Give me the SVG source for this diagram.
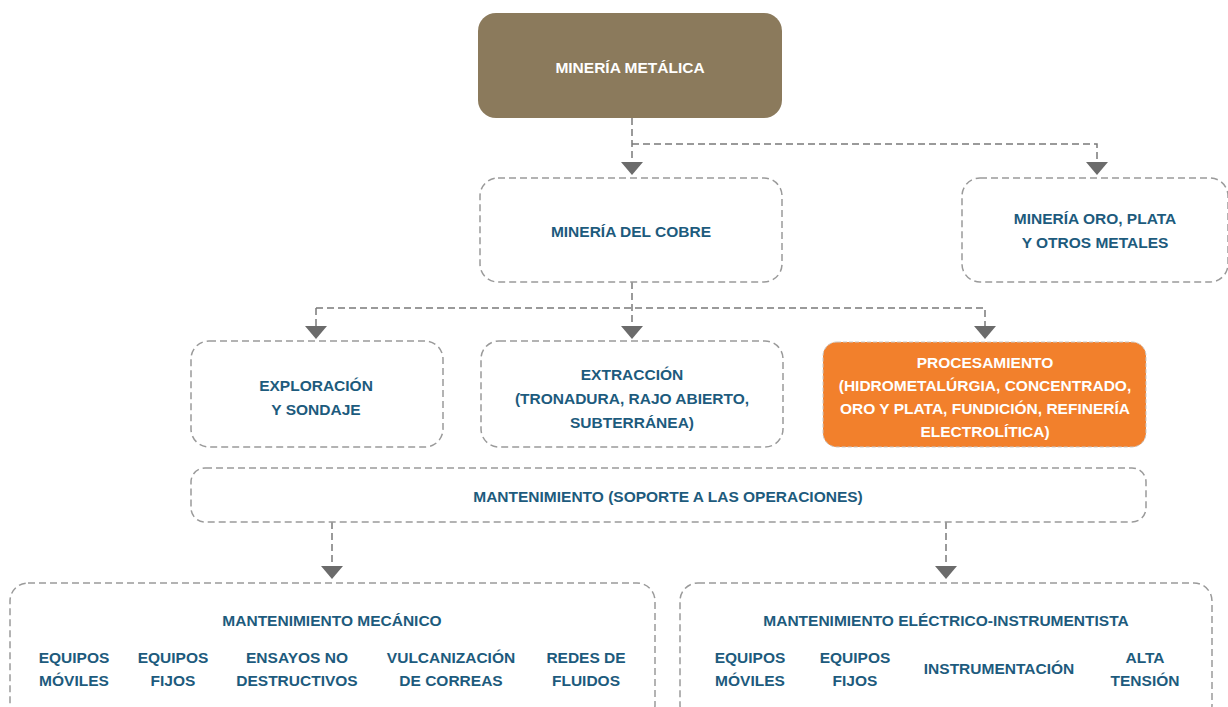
<svg xmlns="http://www.w3.org/2000/svg" width="1228" height="707" viewBox="0 0 1228 707">
<style>
.box{fill:#fff;stroke:#9a9a9a;stroke-width:1.5;stroke-dasharray:7,4}
.conn{fill:none;stroke:#7a7a7a;stroke-width:1.5;stroke-dasharray:7,4}
.t{font-family:"Liberation Sans",Arial,sans-serif;font-weight:bold;font-size:15.5px;fill:#1d5b7d;text-anchor:middle}
.w{fill:#fff}
.ah{fill:#6b6b6b}
</style>
<rect width="1228" height="707" fill="#fff"/>
<g id="connectors">
<path class="conn" d="M632,118 V162"/>
<path class="conn" d="M632,144 H1097 V162"/>
<path class="ah" d="M621,162 H643 L632,175 Z"/>
<path class="ah" d="M1086,162 H1108 L1097,175 Z"/>
<path class="conn" d="M632,282 V326"/>
<path class="conn" d="M316,308 H985 V326"/>
<path class="conn" d="M316,308 V326"/>
<path class="ah" d="M305,326 H327 L316,339 Z"/>
<path class="ah" d="M621,326 H643 L632,339 Z"/>
<path class="ah" d="M974,326 H996 L985,339 Z"/>
<path class="conn" d="M332,522 V566"/>
<path class="conn" d="M946,522 V566"/>
<path class="ah" d="M321,566 H343 L332,579 Z"/>
<path class="ah" d="M935,566 H957 L946,579 Z"/>
</g>
<g id="mineria-metalica">
<rect x="478" y="13" width="304" height="105" rx="18" fill="#8b7a5c"/>
<text class="t w" x="630" y="73">MINERÍA METÁLICA</text>
</g>
<g id="mineria-cobre">
<rect class="box" x="480" y="178" width="302" height="104" rx="18"/>
<text class="t" x="631" y="237">MINERÍA DEL COBRE</text>
</g>
<g id="mineria-oro">
<rect class="box" x="962" y="178" width="266" height="104" rx="18"/>
<text class="t" x="1095" y="224">MINERÍA ORO, PLATA</text>
<text class="t" x="1095" y="248">Y OTROS METALES</text>
</g>
<g id="exploracion">
<rect class="box" x="191" y="341" width="252" height="106" rx="18"/>
<text class="t" x="316" y="391">EXPLORACIÓN</text>
<text class="t" x="316" y="415">Y SONDAJE</text>
</g>
<g id="extraccion">
<rect class="box" x="481" y="341" width="302" height="106" rx="18"/>
<text class="t" x="632" y="380">EXTRACCIÓN</text>
<text class="t" x="632" y="404">(TRONADURA, RAJO ABIERTO,</text>
<text class="t" x="632" y="428">SUBTERRÁNEA)</text>
</g>
<g id="procesamiento">
<rect x="823" y="342" width="323" height="105" rx="14" fill="#f2802c" stroke="#c8c8c8" stroke-width="1" stroke-dasharray="4,2"/>
<text class="t w" x="985" y="368">PROCESAMIENTO</text>
<text class="t w" x="985" y="391">(HIDROMETALÚRGIA, CONCENTRADO,</text>
<text class="t w" x="985" y="414">ORO Y PLATA, FUNDICIÓN, REFINERÍA</text>
<text class="t w" x="985" y="437">ELECTROLÍTICA)</text>
</g>
<g id="mantenimiento">
<rect class="box" x="191" y="468" width="955" height="54" rx="14"/>
<text class="t" x="668" y="502">MANTENIMIENTO (SOPORTE A LAS OPERACIONES)</text>
</g>
<g id="mant-mecanico">
<rect class="box" x="10" y="583" width="645" height="140" rx="18"/>
<text class="t" x="332" y="626">MANTENIMIENTO MECÁNICO</text>
<text class="t" x="74" y="663">EQUIPOS</text>
<text class="t" x="74" y="686">MÓVILES</text>
<text class="t" x="173" y="663">EQUIPOS</text>
<text class="t" x="173" y="686">FIJOS</text>
<text class="t" x="297" y="663">ENSAYOS NO</text>
<text class="t" x="297" y="686">DESTRUCTIVOS</text>
<text class="t" x="451" y="663">VULCANIZACIÓN</text>
<text class="t" x="451" y="686">DE CORREAS</text>
<text class="t" x="586" y="663">REDES DE</text>
<text class="t" x="586" y="686">FLUIDOS</text>
</g>
<g id="mant-electrico">
<rect class="box" x="680" y="583" width="532" height="140" rx="18"/>
<text class="t" x="946" y="626">MANTENIMIENTO ELÉCTRICO-INSTRUMENTISTA</text>
<text class="t" x="750" y="663">EQUIPOS</text>
<text class="t" x="750" y="686">MÓVILES</text>
<text class="t" x="855" y="663">EQUIPOS</text>
<text class="t" x="855" y="686">FIJOS</text>
<text class="t" x="999" y="674">INSTRUMENTACIÓN</text>
<text class="t" x="1145" y="663">ALTA</text>
<text class="t" x="1145" y="686">TENSIÓN</text>
</g>
</svg>
